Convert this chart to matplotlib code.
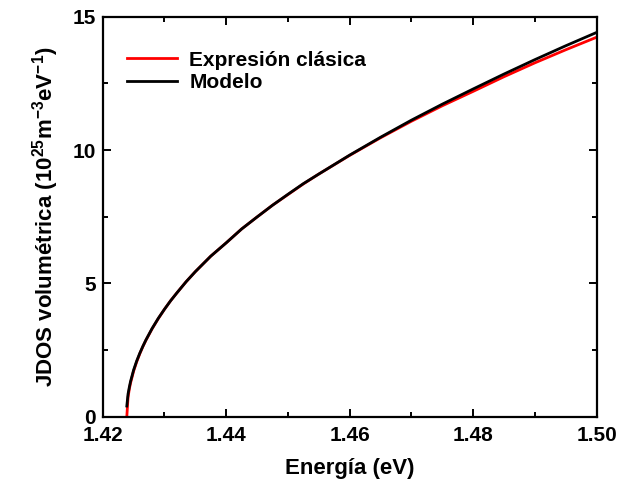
import matplotlib
matplotlib.use("Agg")
import matplotlib.pyplot as plt
from matplotlib.ticker import MultipleLocator, FormatStrFormatter

plt.rcParams['font.family'] = ['Liberation Sans', 'DejaVu Sans']
plt.rcParams['font.weight'] = 'bold'
plt.rcParams['mathtext.fontset'] = 'custom'
plt.rcParams['mathtext.rm'] = 'Liberation Sans:bold'
plt.rcParams['mathtext.it'] = 'Liberation Sans:bold'
plt.rcParams['mathtext.bf'] = 'Liberation Sans:bold'
plt.rcParams['mathtext.default'] = 'rm'

# Energy (eV)
energy = [1.4239, 1.4241, 1.4243, 1.4245, 1.425, 1.4255, 1.426, 1.4265,
          1.427, 1.428, 1.429, 1.430, 1.431, 1.432, 1.4335, 1.435, 1.4375,
          1.440, 1.4425, 1.445, 1.4475, 1.450, 1.4525, 1.455, 1.460, 1.465,
          1.470, 1.475, 1.480, 1.485, 1.490, 1.495, 1.500]
# Classical expression (10^25 m^-3 eV^-1)
classic = [0.0, 0.73, 1.03, 1.26, 1.71, 2.06, 2.36, 2.63,
           2.87, 3.30, 3.68, 4.03, 4.35, 4.64, 5.06, 5.44, 6.02,
           6.52, 7.04, 7.49, 7.93, 8.33, 8.73, 9.10, 9.80, 10.46,
           11.08, 11.66, 12.20, 12.75, 13.27, 13.76, 14.23]
# Model
model = [0.40, 0.85, 1.10, 1.32, 1.75, 2.09, 2.38, 2.64,
         2.88, 3.31, 3.69, 4.03, 4.35, 4.64, 5.06, 5.44, 6.02,
         6.52, 7.04, 7.49, 7.93, 8.34, 8.74, 9.10, 9.81, 10.48,
         11.12, 11.72, 12.29, 12.85, 13.39, 13.91, 14.41]

series_labels = ["Expresión clásica", "Modelo"]

fig = plt.figure(figsize=(6.17, 4.91), dpi=100)
ax = fig.add_axes([0.1665, 0.1513, 0.8005, 0.8147])

ax.plot(energy, classic, color='#ff0000', lw=2.0, label=series_labels[0])
ax.plot(energy, model, color='black', lw=2.0, label=series_labels[1])

ax.set_xlim(1.42, 1.50)
ax.set_ylim(0, 15)
ax.xaxis.set_major_locator(MultipleLocator(0.02))
ax.xaxis.set_minor_locator(MultipleLocator(0.01))
ax.yaxis.set_major_locator(MultipleLocator(5))
ax.yaxis.set_minor_locator(MultipleLocator(2.5))
ax.xaxis.set_major_formatter(FormatStrFormatter('%.2f'))
ax.yaxis.set_major_formatter(FormatStrFormatter('%d'))

ax.tick_params(which='both', direction='in', top=True, right=True,
               width=1.4, labelsize=15)
ax.tick_params(which='major', length=5.5)
ax.tick_params(axis='x', which='major', pad=7)
ax.tick_params(axis='y', which='major', pad=5)
ax.tick_params(which='minor', length=3.5)
for sp in ax.spines.values():
    sp.set_linewidth(1.6)

ax.set_xlabel("Energía (eV)", fontsize=16, fontweight='bold', labelpad=9)
ax.set_ylabel("JDOS volumétrica (10$^{25}$m$^{-3}$eV$^{-1}$)",
              fontsize=16, fontweight='bold', labelpad=8)

leg = ax.legend(loc='upper left', bbox_to_anchor=(0.049, 0.915), frameon=False,
                fontsize=15, handlelength=2.4, handletextpad=0.6,
                labelspacing=0.15, borderpad=0, borderaxespad=0)

fig.savefig("out.png", dpi=100)
